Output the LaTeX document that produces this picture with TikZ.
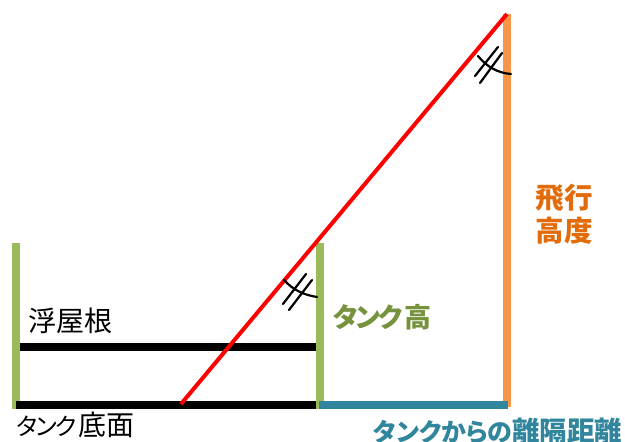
\documentclass[tikz,border=0pt]{standalone}
\usepackage{fontspec}
\newfontfamily\cjk{Noto Sans CJK JP}
\newfontfamily\cjktightA[LetterSpace=-18]{Noto Sans CJK JP}
\newfontfamily\cjktightB[LetterSpace=-16]{Noto Sans CJK JP}
\newfontfamily\cjktightC[LetterSpace=-8]{Noto Sans CJK JP}
\definecolor{barGreen}{HTML}{9BBB59}
\definecolor{barOrange}{HTML}{F79646}
\definecolor{barTeal}{HTML}{31859C}
\definecolor{txtGreen}{HTML}{76923C}
\definecolor{txtOrange}{HTML}{E36C0A}
\tikzset{
  bar/.style={line width=8pt,line cap=butt},
  sight/.style={line width=4pt,red,line cap=butt},
  mark line/.style={line width=2.2pt,black,line cap=round},
  plain label/.style={inner sep=0pt,text=black},
  bold label/.style={inner sep=0pt,align=center},
}
\begin{document}
\begin{tikzpicture}[x=1pt,y=-1pt]
\useasboundingbox (0,0) rectangle (625,442);
\coordinate (ltTop) at (16,243);
\coordinate (ltBot) at (16,409);
\coordinate (roofL) at (20,347);
\coordinate (roofR) at (316,347);
\coordinate (floorL) at (16,405);
\coordinate (floorR) at (316,405);
\coordinate (rtTop) at (320,243);
\coordinate (rtBot) at (320,409);
\coordinate (distL) at (319,405);
\coordinate (distR) at (508,405);
\coordinate (altTop) at (507,14);
\coordinate (altBot) at (507,407);
\coordinate (redA) at (181,404);
\coordinate (redB) at (507,14);
\draw[bar,barGreen] (ltTop) -- (ltBot);
\draw[bar,barGreen] (rtTop) -- (rtBot);
\draw[bar,barOrange] (altTop) -- (altBot);
\draw[bar,black] (roofL) -- (roofR);
\draw[bar,black] (floorL) -- (floorR);
\draw[bar,barTeal] (distL) -- (distR);
\draw[sight] (redA) -- (redB);
% upper angle mark
\coordinate (ua) at (478,56);
\coordinate (ub) at (511,74);
\coordinate (t1a) at (475,76);
\coordinate (t1b) at (498,47);
\coordinate (t2a) at (480,83);
\coordinate (t2b) at (502,53);
\draw[mark line] (ua) .. controls (487,67) and (498,73) .. (ub);
\draw[mark line] (t1a) -- (t1b);
\draw[mark line] (t2a) -- (t2b);
% lower angle mark
\coordinate (la) at (284,280);
\coordinate (lb) at (317,297);
\coordinate (s1a) at (283,304);
\coordinate (s1b) at (306,274);
\coordinate (s2a) at (289,310);
\coordinate (s2b) at (312,280);
\draw[mark line] (la) .. controls (293,290) and (304,295) .. (lb);
\draw[mark line] (s1a) -- (s1b);
\draw[mark line] (s2a) -- (s2b);
% labels
\node[plain label,font=\cjk\fontsize{28}{30}\selectfont,anchor=center] (roof) at (70.5,320.5) {浮屋根};
\node[plain label,anchor=west] (floor) at (15,425) {\cjktightA\fontsize{24}{30}\selectfont タンク\cjk\fontsize{28}{30}\selectfont 底面};
\node[bold label,text=txtGreen,anchor=west] (height) at (332,317) {\cjktightB\bfseries\fontsize{27}{30}\selectfont タンク\cjk\bfseries\fontsize{27}{30}\selectfont 高};
\node[bold label,text=txtOrange,font=\cjk\bfseries\fontsize{28.5}{33.5}\selectfont] (alt) at (564,214) {飛行\\高度};
\node[bold label,text=barTeal,anchor=west] (dist) at (372,431) {\cjktightC\bfseries\fontsize{25}{30}\selectfont タンクからの\cjk\bfseries\fontsize{27.5}{30}\selectfont 離隔距離};
\end{tikzpicture}
\end{document}
